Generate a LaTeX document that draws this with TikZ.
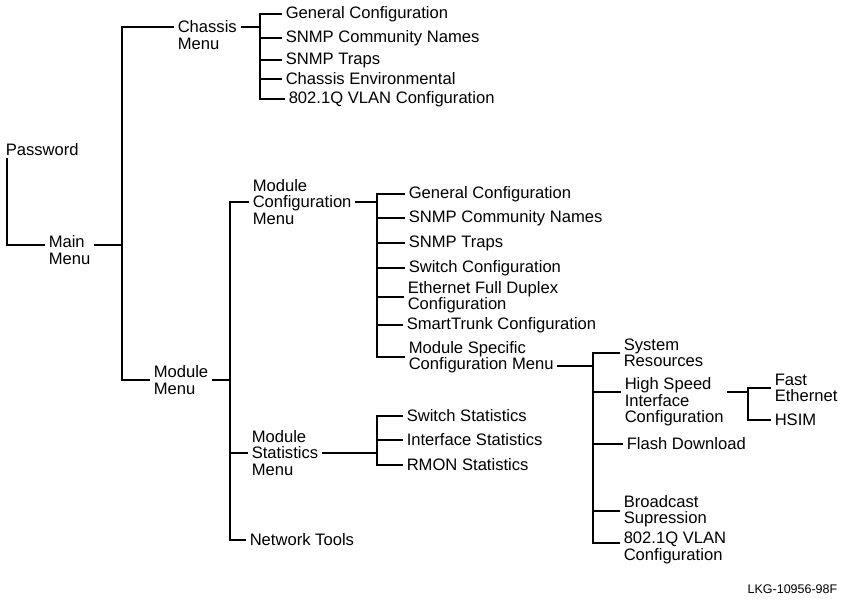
\documentclass[tikz,border=0pt]{standalone}
\usepackage{fontspec}
\setmainfont{Liberation Sans}
\begin{document}
\begin{tikzpicture}[x=1pt,y=-1pt,line width=1.5pt,
    item/.style={anchor=west,align=left,inner xsep=3pt,inner ysep=1pt,
      font=\fontsize{16.6}{16.5}\selectfont}]
  \useasboundingbox (0,0) rectangle (845,603);
  \node[item] (pw) at (2,150) {Password};
  \node[item] (main) at (45,250) {Main\\Menu};
  \coordinate (mainJ) at (122,245);
  \node[item] (chassis) at (174,35) {Chassis\\Menu};
  \coordinate (chJ) at (260,27);
  \node[item] (ch1) at (282,14) {General Configuration};
  \node[item] (ch2) at (282,38) {SNMP Community Names};
  \node[item] (ch3) at (282,60) {SNMP Traps};
  \node[item] (ch4) at (282,79) {Chassis Environmental};
  \node[item] (ch5) at (285,99) {802.1Q VLAN Configuration};
  \node[item] (mmod) at (150,380) {Module\\Menu};
  \coordinate (modJ) at (230,380);
  \node[item] (mcfg) at (249,202) {Module\\Configuration\\Menu};
  \coordinate (cfgJ) at (377,202);
  \node[item] (cfg1) at (405,194) {General Configuration};
  \node[item] (cfg2) at (405,218) {SNMP Community Names};
  \node[item] (cfg3) at (405,243) {SNMP Traps};
  \node[item] (cfg4) at (405,268) {Switch Configuration};
  \node[item] (cfg5) at (404,297) {Ethernet Full Duplex\\Configuration};
  \node[item] (cfg6) at (403,325) {SmartTrunk Configuration};
  \node[item] (spec) at (405,357) {Module Specific\\Configuration Menu};
  \coordinate (specJ) at (593,366);
  \node[item] (sys) at (620,353) {System\\Resources};
  \node[item] (hs) at (621,402) {High Speed\\Interface\\Configuration};
  \node[item] (flash) at (623,444) {Flash Download};
  \node[item] (bcast) at (620,511) {Broadcast\\Supression};
  \node[item] (vlan) at (620,548) {802.1Q VLAN\\Configuration};
  \coordinate (hsJ) at (748,392);
  \node[item] (fast) at (771,388) {Fast\\Ethernet};
  \node[item] (hsim) at (771,420) {HSIM};
  \node[item] (mstat) at (248,453) {Module\\Statistics\\Menu};
  \coordinate (statJ) at (377,453);
  \node[item] (sw) at (403,416) {Switch Statistics};
  \node[item] (ifs) at (403,440) {Interface Statistics};
  \node[item] (rmon) at (403,465) {RMON Statistics};
  \node[item] (nt) at (246,540) {Network Tools};
  \node[anchor=east,inner sep=0pt,font=\fontsize{12.5}{13}\selectfont] (fig) at (838,589) {LKG-10956-98F};
  \draw ([xshift=5pt]pw.south west) |- ([yshift=5pt]main.west);
  \draw (main.east |- mainJ) -- (mainJ);
  \draw (mainJ) |- ([yshift=8pt]chassis.west);
  \draw (mainJ) |- (mmod.west);
  \draw (chassis.east |- chJ) -- (chJ);
  \foreach \n in {ch1,ch2,ch3,ch4,ch5}
    \draw (chJ) |- (\n.west);
  \draw (mmod.east |- modJ) -- (modJ);
  \foreach \n in {mcfg,mstat,nt}
    \draw (modJ) |- (\n.west);
  \draw (mcfg.east |- cfgJ) -- (cfgJ);
  \foreach \n in {cfg1,cfg2,cfg3,cfg4,cfg5,cfg6,spec}
    \draw (cfgJ) |- (\n.west);
  \draw (spec.east |- specJ) -- (specJ);
  \draw (specJ) |- (sys.west);
  \draw (specJ) |- ([yshift=10pt]hs.west);
  \draw (specJ) |- (flash.west);
  \draw (specJ) |- (bcast.west);
  \draw (specJ) |- ([yshift=5pt]vlan.west);
  \draw (hs.east |- hsJ) -- (hsJ);
  \draw (hsJ) |- (fast.west);
  \draw (hsJ) |- (hsim.west);
  \draw (mstat.east |- statJ) -- (statJ);
  \foreach \n in {sw,ifs,rmon}
    \draw (statJ) |- (\n.west);
\end{tikzpicture}
\end{document}
